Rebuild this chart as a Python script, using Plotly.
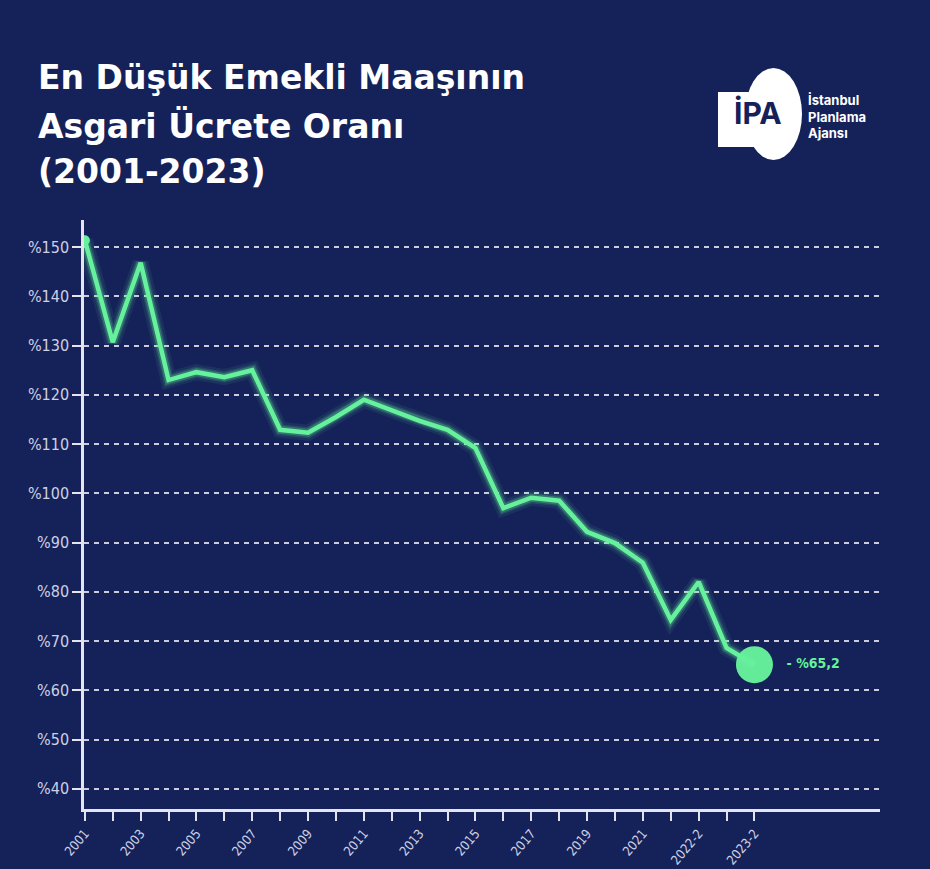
import plotly.graph_objects as go

categories = ["2001", "2002", "2003", "2004", "2005", "2006", "2007", "2008", "2009", "2010",
              "2011", "2012", "2013", "2014", "2015", "2016", "2017", "2018", "2019", "2020",
              "2021", "2022-1", "2022-2", "2023-1", "2023-2"]
ratio = [151.4, 130.7, 146.8, 123.0, 124.6, 123.6, 125.0, 112.9, 112.3, 115.5,
         119.0, 116.9, 114.7, 112.9, 109.2, 97.0, 99.1, 98.5, 92.2, 89.9,
         85.9, 74.3, 82.0, 68.6, 65.2]
y_ticks = [40, 50, 60, 70, 80, 90, 100, 110, 120, 130, 140, 150]
y_tick_labels = ["%" + str(v) for v in y_ticks]
x_tick_labels = [c if i % 2 == 0 else "" for i, c in enumerate(categories)]
title_lines = ["En Düşük Emekli Maaşının", "Asgari Ücrete Oranı", "(2001-2023)"]
last_label = "- %65,2"

BG = "#15225a"
GREEN = "#66f29c"
AXIS = "#e4e4f0"
LABEL = "#cdd0e4"
COND = "DejaVu Sans Condensed, Roboto Condensed, Roboto"
xi = list(range(len(categories)))

fig = go.Figure()
for w, op in [(16, 0.07), (11, 0.13), (8, 0.25)]:
    fig.add_trace(go.Scatter(x=xi, y=ratio, mode="lines", line=dict(color=GREEN, width=w),
                             opacity=op, hoverinfo="skip", showlegend=False))
fig.add_trace(go.Scatter(x=xi, y=ratio, mode="lines", line=dict(color=GREEN, width=4.5),
                         showlegend=False))
fig.add_trace(go.Scatter(x=[xi[0]], y=[ratio[0]], mode="markers",
                         marker=dict(color=GREEN, size=10), showlegend=False))
fig.add_trace(go.Scatter(x=[xi[-1]], y=[ratio[-1]], mode="markers+text",
                         marker=dict(color=GREEN, size=37, opacity=0.97),
                         text=["  <b>" + last_label + "</b>"], textposition="middle right",
                         textfont=dict(color=GREEN, size=14, family=COND),
                         showlegend=False))

fig.update_layout(
    width=930, height=869,
    paper_bgcolor=BG, plot_bgcolor=BG,
    margin=dict(l=84, r=50, t=220, b=60),
    showlegend=False,
    xaxis=dict(range=[-0.03, 28.5], tickmode="array", tickvals=xi, ticktext=x_tick_labels,
               tickangle=-50, ticks="outside", ticklen=9, tickwidth=2, tickcolor=AXIS,
               showline=True, linecolor=AXIS, linewidth=2.5, showgrid=False, zeroline=False,
               automargin=False,
               tickfont=dict(color=LABEL, size=13, family=COND)),
    yaxis=dict(range=[35.9, 155.5], tickmode="array", tickvals=y_ticks, ticktext=y_tick_labels,
               ticks="outside", ticklen=9, tickwidth=2, tickcolor=AXIS,
               showline=True, linecolor=AXIS, linewidth=2.5, automargin=False,
               showgrid=True, gridcolor="rgba(235,235,245,0.85)", gridwidth=1.5,
               griddash="5px,5px", zeroline=False,
               tickfont=dict(color=LABEL, size=16, family=COND)),
)

# Title lines
title_y = [77, 126, 171]
for line, py in zip(title_lines, title_y):
    fig.add_annotation(text="<b>" + line + "</b>", xref="paper", yref="paper",
                       x=(36 - 84) / 796, y=(809 - py) / 589, xanchor="left", yanchor="middle",
                       showarrow=False, font=dict(color="white", size=33, family="DejaVu Sans, Inter"))

# Logo approximation
fig.add_shape(type="circle", xref="paper", yref="paper",
              x0=(745 - 84) / 796, x1=(802 - 84) / 796, y0=(809 - 160) / 589, y1=(809 - 68) / 589,
              fillcolor="white", line=dict(width=0), layer="above")
fig.add_shape(type="rect", xref="paper", yref="paper",
              x0=(718 - 84) / 796, x1=(770 - 84) / 796, y0=(809 - 147) / 589, y1=(809 - 92) / 589,
              fillcolor="white", line=dict(width=0), layer="above")
fig.add_annotation(text="<b>İPA</b>", xref="paper", yref="paper", x=(758 - 84) / 796,
                   y=(809 - 113) / 589, xanchor="center", yanchor="middle", showarrow=False,
                   font=dict(color=BG, size=30, family="Inter, Lato"))
for line, py in zip(["İstanbul", "Planlama", "Ajansı"], [100, 117, 133]):
    fig.add_annotation(text="<b>" + line + "</b>", xref="paper", yref="paper",
                       x=(806 - 84) / 796, y=(809 - py) / 589, xanchor="left", yanchor="middle",
                       showarrow=False, font=dict(color="white", size=13, family="Inter, Lato"))

fig.write_html("out.html")
